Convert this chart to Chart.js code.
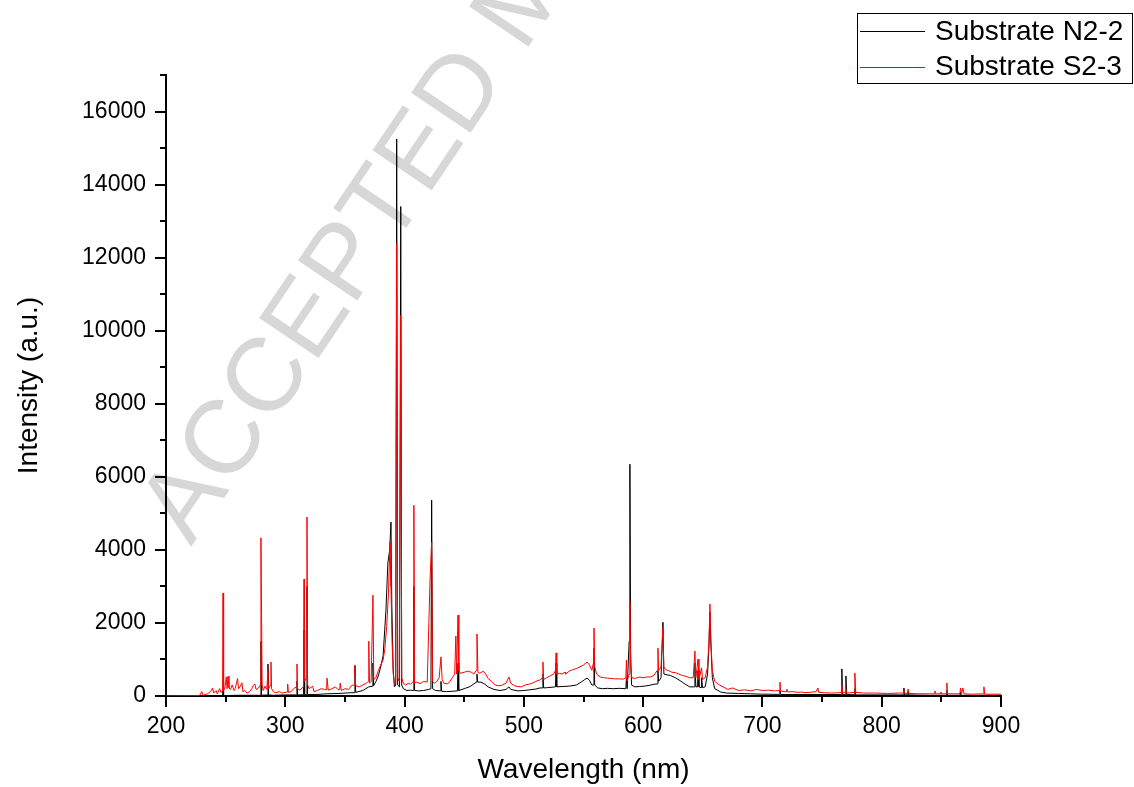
<!DOCTYPE html>
<html>
<head>
<meta charset="utf-8">
<script src="https://cdn.jsdelivr.net/npm/chart.js@4"></script>
<style>
  html, body { margin: 0; padding: 0; background: #fff; }
  #wrap { width: 1134px; height: 787px; }
</style>
</head>
<body>
<div id="wrap"><canvas id="spectrumChart" width="1134" height="787"></canvas></div>
<script>
// emission spectra: wavelength (nm) and intensity (a.u.)
const seriesNames = ['Substrate N2-2', 'Substrate S2-3'];
const seriesColors = ['#000000', '#ff0000'];

const n22Wavelength = [200, 240, 247.4, 247.8, 248.3, 260, 270, 279.2, 279.6, 280.1, 285, 285.5, 286, 290, 300,
  309.4, 309.8, 310.3, 315.3, 315.7, 316.2, 317.8, 318.2, 318.7, 325, 335, 345, 355, 358, 358.4, 359, 365,
  370, 373.1, 373.5, 374, 376, 378, 380, 382, 384.4, 386, 387.5, 388.6, 389.3, 390.5, 391.5, 392.6, 393.4,
  394.2, 395.8, 396.8, 397.6, 399, 402, 405, 407.3, 407.8, 408.4, 412, 416, 420, 422.1, 422.7, 423.5, 426,
  430, 430.5, 431.1, 435, 440, 444.3, 444.8, 445.4, 450, 455, 458, 460.2, 460.7, 461.3, 464, 467, 470, 475,
  480, 485, 487.5, 489, 495, 500, 505, 510, 513.5, 515.5, 516, 516.6, 520, 526.5, 527, 527.6, 532, 538, 544,
  548, 551, 553, 555, 557, 558.3, 558.8, 559.4, 562, 566, 570, 575, 580, 585.5, 586, 586.6, 588.3, 588.9,
  589.5, 590.3, 593, 597, 601, 605, 609, 611.9, 612.4, 613, 615, 616.6, 617.4, 620, 623, 627, 631, 635, 639,
  643, 643.4, 644.2, 645.6, 646, 646.8, 648.6, 649, 649.8, 652, 654, 655.2, 656, 656.8, 658, 660, 665, 670,
  680, 690, 700, 714.3, 714.7, 715.3, 730, 750, 760, 766.2, 766.6, 767.1, 769.6, 770, 770.5, 777.1, 777.5,
  778, 800, 818.2, 818.6, 819.2, 821.6, 822, 822.6, 840, 854.2, 854.6, 855.2, 865.6, 866, 866.5, 880, 900];
const n22Intensity = [0, 10, 10, 150, 10, 20, 20, 20, 1500, 20, 30, 875, 30, 20, 30,
  30, 400, 30, 35, 1800, 40, 40, 3000, 40, 40, 60, 70, 90, 90, 820, 100, 150,
  250, 270, 900, 280, 400, 550, 800, 1100, 2350, 3640, 4000, 4760, 2500, 700, 250, 300, 15250,
  300, 250, 13400, 300, 200, 150, 160, 150, 3000, 150, 140, 150, 180, 200, 5360, 200, 150,
  140, 400, 130, 120, 130, 140, 900, 150, 200, 260, 330, 380, 600, 380, 380, 330, 250, 180,
  150, 180, 250, 180, 140, 150, 170, 190, 220, 220, 600, 220, 230, 250, 900, 250, 260, 270, 300,
  380, 450, 490, 430, 300, 300, 1300, 300, 220, 200, 210, 200, 210, 200, 500, 200, 1500, 6345,
  1200, 300, 250, 260, 270, 290, 320, 330, 700, 400, 500, 2020, 600, 580, 560, 500, 420, 330, 250,
  250, 900, 250, 250, 700, 250, 230, 500, 230, 250, 600, 1400, 2300, 1400, 500, 200, 110, 80,
  70, 60, 50, 45, 150, 40, 40, 40, 40, 40, 740, 40, 40, 550, 40, 35, 200,
  30, 30, 30, 220, 30, 30, 120, 30, 20, 20, 150, 20, 20, 100, 20, 20, 20];

const s23Wavelength = [200, 228, 230, 231, 235, 238, 239, 240, 242, 243, 245, 246, 247.4, 247.8, 248.3, 249.5,
  250.5, 251.2, 252, 252.8, 254, 255.5, 257, 258, 259.3, 260, 260.8, 262, 263.7, 264.5, 266, 268, 270,
  272, 273, 274.5, 275.5, 277, 279.2, 279.6, 280.1, 280.6, 281.5, 283, 284.5, 285.5, 286, 287.6, 288,
  288.5, 290, 292, 295, 297, 300, 301.6, 302, 302.6, 305, 307, 309.4, 309.8, 310.3, 312, 315.3, 315.7, 316.1,
  317.8, 318.2, 318.7, 320, 323, 324, 327, 330, 333, 334.6, 335, 336, 339, 342, 344, 345.6, 346, 347, 350,
  353, 356, 358, 358.4, 359, 362, 365, 368, 369.5, 370, 370.6, 372, 373.5, 374.2, 376, 378, 380, 382,
  383.5, 385, 386.5, 387.8, 388.6, 389.5, 390.5, 391.5, 392.5, 393.4, 394.2, 395.5, 396.8, 397.6, 399,
  401, 403, 405, 407.3, 407.8, 408.4, 410, 413, 416, 419, 421.3, 422.7, 423.5, 425, 427, 429, 430.5,
  431.5, 433, 436, 438, 440, 442, 443, 443.6, 444.8, 445.5, 447, 450, 453, 456, 458, 460, 460.7, 461.5,
  463, 466, 468, 470, 473, 476, 479, 482, 485, 487.5, 489, 492, 495, 498, 501, 504, 507, 510, 513.5,
  515.5, 516, 516.6, 519, 522, 525, 526.5, 527, 527.6, 530, 532, 534.5, 535, 538, 541, 544, 547, 550,
  553, 555, 557, 558.3, 558.8, 559.4, 561, 564, 567, 570, 573, 576, 580, 583, 585.5, 586, 586.5, 588.3,
  588.9, 589.5, 590.5, 593, 597, 600, 603, 606, 609, 611.8, 612.4, 613, 615, 616.6, 617.3, 619, 621, 624,
  627, 630, 633, 636, 639, 642, 643.4, 644.2, 646, 646.8, 649, 649.8, 652, 654, 655.2, 656, 656.8,
  658, 660, 663, 667, 671, 675, 680, 685, 690, 695, 700, 705, 710, 714.3, 714.7, 715.2, 718, 720.1, 720.5,
  721, 725, 730, 733, 735, 740, 745, 746.5, 747.2, 752, 758, 763, 766.2, 766.6, 767.2, 769.6, 770, 771,
  777.2, 777.5, 778.2, 785, 795, 805, 815, 818.2, 818.6, 819.2, 821.6, 822, 823, 830, 840, 844.2, 844.6,
  845.2, 849.2, 849.6, 850.2, 854.3, 854.6, 855.2, 860, 865.6, 866, 867, 868, 869, 875, 885.5, 885.7,
  886.2, 895, 900];
const s23Intensity = [0, 10, 120, 20, 60, 150, 220, 80, 150, 60, 200, 100, 120, 2820, 150, 250,
  520, 200, 540, 220, 180, 300, 150, 200, 380, 480, 200, 250, 360, 120, 150, 80, 120,
  200, 280, 330, 180, 200, 300, 4330, 2200, 300, 150, 270, 180, 700, 200, 300, 930,
  200, 120, 90, 120, 80, 100, 110, 330, 100, 120, 200, 250, 875, 200, 160, 250, 3200, 400,
  500, 4900, 300, 200, 270, 120, 150, 200, 180, 170, 490, 160, 200, 250, 180, 170, 350, 150, 200,
  180, 300, 290, 850, 280, 250, 300, 350, 400, 1500, 350, 400, 2760, 450, 500, 700, 850, 985,
  1300, 1900, 2800, 4210, 3000, 1500, 600, 350, 400, 12390, 500, 400, 10420, 500, 350,
  300, 350, 320, 400, 5220, 350, 380, 340, 400, 380, 3120, 4210, 400, 350, 400, 500, 1070,
  450, 350, 330, 400, 500, 600, 1640, 600, 2215, 700, 620, 650, 680, 650, 600, 700, 1700, 650,
  620, 680, 600, 480, 400, 300, 280, 300, 350, 520, 350, 280, 260, 250, 300, 320, 350, 400, 440,
  500, 930, 450, 500, 550, 600, 700, 1180, 600, 620, 600, 650, 600, 680, 720, 750, 800, 850,
  930, 850, 700, 900, 1860, 800, 600, 520, 500, 490, 480, 470, 470, 460, 500, 985, 400, 600,
  2600, 800, 500, 480, 520, 500, 520, 520, 560, 700, 1310, 700, 800, 1890, 800, 720, 700, 650,
  640, 600, 560, 540, 500, 500, 1230, 500, 1010, 450, 770, 450, 500, 800, 1500, 2515, 1500,
  700, 400, 320, 250, 180, 220, 150, 170, 140, 180, 150, 160, 140, 150, 380, 140, 120, 120, 190,
  110, 120, 100, 110, 90, 100, 120, 220, 100, 90, 80, 90, 90, 300, 90, 90, 180, 80,
  100, 630, 100, 80, 80, 70, 80, 80, 150, 70, 70, 190, 70, 60, 60, 60, 140,
  60, 60, 110, 60, 60, 360, 60, 60, 60, 220, 60, 220, 60, 50, 60, 250,
  50, 50, 50];

// axis ticks
const xMajorTicks = [200, 300, 400, 500, 600, 700, 800, 900];
const xMinorTicks = [250, 350, 450, 550, 650, 750, 850];
const yMajorTicks = [0, 2000, 4000, 6000, 8000, 10000, 12000, 14000, 16000];
const yMinorTicks = [1000, 3000, 5000, 7000, 9000, 11000, 13000, 15000, 17000];

const watermarkText = 'ACCEPTED MANUSCRIPT';

function toPoints(xs, ys) {
    return xs.map((x, i) => ({ x: x, y: ys[i] }));
}

const fontFamily = '"Liberation Sans", Arial, sans-serif';

// faint diagonal watermark, drawn first so everything else sits on top
const watermarkPlugin = {
    id: 'watermark',
    beforeDraw(chart) {
        const ctx = chart.ctx;
        ctx.save();
        ctx.translate(191, 547);
        ctx.rotate(-56 * Math.PI / 180);
        ctx.font = '104px ' + fontFamily;
        ctx.fillStyle = '#d7d7d7';
        ctx.textAlign = 'left';
        ctx.textBaseline = 'alphabetic';
        ctx.fillText(watermarkText, 0, 0);
        ctx.restore();
    }
};

// short minor tick marks, placed through the chart's own scales
const minorTicksPlugin = {
    id: 'minorTicks',
    afterDraw(chart) {
        const ctx = chart.ctx;
        const xs = chart.scales.x;
        const ys = chart.scales.y;
        const area = chart.chartArea;
        ctx.save();
        ctx.strokeStyle = '#000';
        ctx.lineWidth = 2;
        ctx.beginPath();
        xMinorTicks.forEach(v => {
            const px = Math.round(xs.getPixelForValue(v));
            ctx.moveTo(px, area.bottom);
            ctx.lineTo(px, area.bottom + 6);
        });
        yMinorTicks.forEach(v => {
            const py = Math.round(ys.getPixelForValue(v));
            ctx.moveTo(area.left - 6, py);
            ctx.lineTo(area.left, py);
        });
        ctx.stroke();
        ctx.restore();
    }
};

// boxed legend in the top right corner
const boxLegendPlugin = {
    id: 'boxLegend',
    afterDraw(chart) {
        const ctx = chart.ctx;
        ctx.save();
        ctx.strokeStyle = '#000';
        ctx.lineWidth = 1;
        ctx.strokeRect(857.5, 13.5, 275, 70);
        ctx.font = '28px ' + fontFamily;
        ctx.textBaseline = 'middle';
        ctx.textAlign = 'left';
        seriesNames.forEach((name, i) => {
            const y = 31 + i * 35.5;
            ctx.strokeStyle = seriesColors[i];
            ctx.beginPath();
            ctx.moveTo(860, Math.round(y) + 0.5);
            ctx.lineTo(925, Math.round(y) + 0.5);
            ctx.stroke();
            ctx.fillStyle = '#000';
            ctx.fillText(name, 935, y + 1);
        });
        ctx.restore();
    }
};

function drawSpectrumChart() {
    const ctx = document.getElementById('spectrumChart').getContext('2d');
    new Chart(ctx, {
        type: 'line',
        data: {
            datasets: [{
                label: seriesNames[0],
                data: toPoints(n22Wavelength, n22Intensity),
                borderColor: seriesColors[0],
                borderWidth: 1,
                pointRadius: 0,
                tension: 0,
                order: 1
            }, {
                label: seriesNames[1],
                data: toPoints(s23Wavelength, s23Intensity),
                borderColor: seriesColors[1],
                borderWidth: 1,
                pointRadius: 0,
                tension: 0,
                order: 0
            }]
        },
        options: {
            responsive: false,
            animation: false,
            layout: { padding: { top: 75, right: 133, left: 0, bottom: 0 } },
            plugins: {
                legend: { display: false },
                tooltip: { enabled: false }
            },
            scales: {
                x: {
                    type: 'linear',
                    min: 200,
                    max: 900,
                    afterFit: s => { s.height = 91; },
                    afterBuildTicks: s => { s.ticks = xMajorTicks.map(v => ({ value: v })); },
                    ticks: {
                        color: '#000',
                        padding: 6,
                        maxRotation: 0,
                        callback: v => String(v),
                        font: { family: fontFamily, size: 23 }
                    },
                    grid: {
                        drawOnChartArea: false,
                        drawTicks: true,
                        tickLength: 11,
                        color: '#000',
                        lineWidth: 2
                    },
                    border: { display: true, color: '#000', width: 2 },
                    title: {
                        display: true,
                        text: 'Wavelength (nm)',
                        color: '#000',
                        font: { family: fontFamily, size: 28 },
                        padding: { top: 0, bottom: 0 }
                    }
                },
                y: {
                    type: 'linear',
                    min: 0,
                    max: 17000,
                    afterFit: s => { s.width = 166; },
                    afterBuildTicks: s => { s.ticks = yMajorTicks.map(v => ({ value: v })); },
                    ticks: {
                        color: '#000',
                        padding: 9,
                        callback: v => String(v),
                        font: { family: fontFamily, size: 23 }
                    },
                    grid: {
                        drawOnChartArea: false,
                        drawTicks: true,
                        tickLength: 11,
                        color: '#000',
                        lineWidth: 2
                    },
                    border: { display: true, color: '#000', width: 2 },
                    title: {
                        display: true,
                        text: 'Intensity (a.u.)',
                        color: '#000',
                        font: { family: fontFamily, size: 28 },
                        padding: { top: 12, bottom: 0 }
                    }
                }
            }
        },
        plugins: [watermarkPlugin, minorTicksPlugin, boxLegendPlugin]
    });
}

document.addEventListener('DOMContentLoaded', function() {
    drawSpectrumChart();
});
</script>
</body>
</html>
